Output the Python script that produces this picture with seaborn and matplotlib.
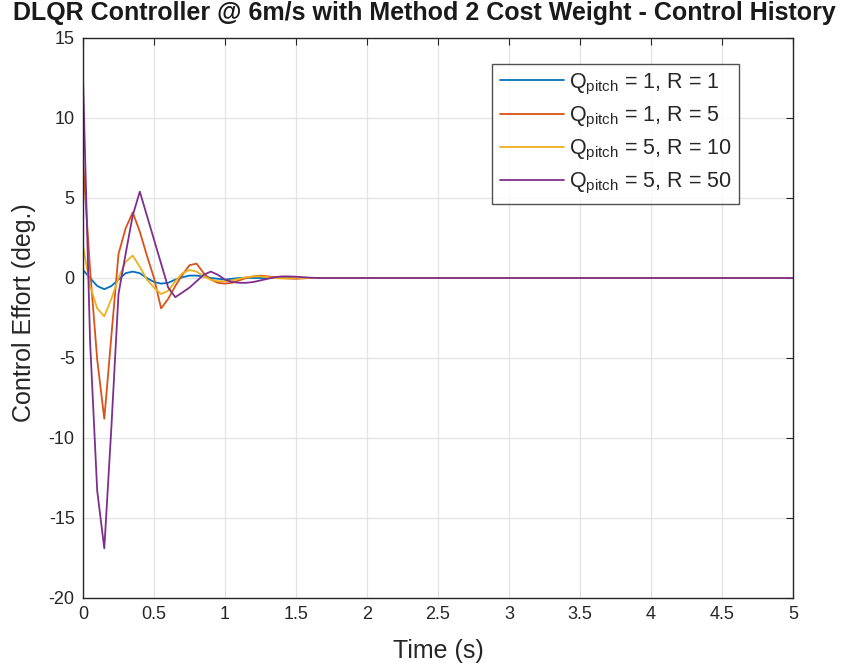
import numpy as np
import pandas as pd
import matplotlib
matplotlib.use("Agg")
import matplotlib.pyplot as plt
import seaborn as sns

# ---------------- data ----------------
dt = 0.05
n_points = 101  # 0 .. 5 s

series_labels = [
    r"Q$_{\mathrm{pitch}}$ = 1, R = 1",
    r"Q$_{\mathrm{pitch}}$ = 1, R = 5",
    r"Q$_{\mathrm{pitch}}$ = 5, R = 10",
    r"Q$_{\mathrm{pitch}}$ = 5, R = 50",
]

u_q1_r1 = [0.5, 0.0, -0.5, -0.7, -0.5, -0.1, 0.3, 0.4, 0.3, 0.0,
           -0.25, -0.35, -0.3, -0.1, 0.05, 0.15, 0.15, 0.1, 0.0, -0.05,
           -0.1, -0.05, 0.0, 0.02]
u_q1_r5 = [7.3, 0.5, -5.1, -8.8, -3.6, 1.5, 3.1, 4.1, 2.9, 1.4,
           0.0, -1.9, -1.3, -0.5, 0.2, 0.8, 0.9, 0.3, -0.1, -0.3,
           -0.35, -0.3, -0.15, 0.0, 0.1, 0.15, 0.1, 0.05, 0.0, -0.03,
           -0.05, -0.02]
u_q5_r10 = [2.0, -0.5, -1.9, -2.4, -1.3, 0.0, 1.0, 1.4, 0.7, -0.1,
            -0.6, -1.0, -0.8, -0.2, 0.3, 0.5, 0.4, 0.1, -0.1, -0.2,
            -0.2, -0.15, -0.05, 0.05, 0.1, 0.1, 0.05, 0.0, -0.03, -0.03]
u_q5_r50 = [12.5, -4.0, -13.3, -16.9, -9.3, -1.0, 1.5, 3.9, 5.4, 3.9,
            2.4, 0.9, -0.6, -1.2, -0.9, -0.6, -0.2, 0.2, 0.4, 0.2,
            -0.1, -0.25, -0.3, -0.3, -0.25, -0.15, -0.05, 0.05, 0.1, 0.1,
            0.08, 0.05, 0.02]

series_values = [u_q1_r1, u_q1_r5, u_q5_r10, u_q5_r50]
colors = ["#0072BD", "#D95319", "#EDB120", "#7E2F8E"]

x_ticks = [0, 0.5, 1, 1.5, 2, 2.5, 3, 3.5, 4, 4.5, 5]
x_tick_labels = ["0", "0.5", "1", "1.5", "2", "2.5", "3", "3.5", "4", "4.5", "5"]
y_ticks = [-20, -15, -10, -5, 0, 5, 10, 15]

# ---------------- build table ----------------
time = np.arange(n_points) * dt
rows = []
for lab, vals in zip(series_labels, series_values):
    full = list(vals) + [0.0] * (n_points - len(vals))
    rows.append(pd.DataFrame({"t": time, "u": full, "series": lab}))
df = pd.concat(rows, ignore_index=True)

# ---------------- style ----------------
sns.set_theme(style="white")
plt.rcParams["font.family"] = ["Liberation Sans", "DejaVu Sans"]
plt.rcParams["mathtext.fontset"] = "custom"
plt.rcParams["mathtext.rm"] = "Liberation Sans"
plt.rcParams["mathtext.it"] = "Liberation Sans"
plt.rcParams["axes.unicode_minus"] = False

fig = plt.figure(figsize=(8.48, 6.65), dpi=100)
ax = fig.add_axes([83 / 848, 1 - 598 / 665, (793 - 83) / 848, (598 - 38) / 665])

sns.lineplot(data=df, x="t", y="u", hue="series", hue_order=series_labels,
             palette=colors, estimator=None, linewidth=1.3, ax=ax, legend=False)

ax.set_xlim(0, 5)
ax.set_ylim(-20, 15)
ax.set_xticks(x_ticks)
ax.set_xticklabels(x_tick_labels)
ax.set_yticks(y_ticks)
ax.grid(True, color="#e3e3e3", linewidth=0.9)
ax.set_axisbelow(True)
for s in ax.spines.values():
    s.set_color("#262626")
    s.set_linewidth(1.0)
ax.tick_params(direction="in", length=5, width=0.8, colors="#262626",
               labelsize=13, top=True, right=True, pad=6)
for lbl in ax.get_xticklabels() + ax.get_yticklabels():
    lbl.set_color("#262626")

ax.set_xlabel("Time (s)", fontsize=18, color="#262626", labelpad=11)
ax.set_ylabel("Control Effort (deg.)", fontsize=18, color="#262626")
ax.yaxis.set_label_coords(-0.066, 0.51)
fig.suptitle("DLQR Controller @ 6m/s with Method 2 Cost Weight - Control History",
             fontsize=18, fontweight="bold", x=0.5, y=0.999, va="top", color="#1a1a1a")

handles = [plt.Line2D([], [], color=c, linewidth=1.3) for c in colors]
leg = ax.legend(handles, series_labels, loc="upper right",
                bbox_to_anchor=(739 / 848, 1 - 64 / 665), bbox_transform=fig.transFigure,
                fontsize=15.5, frameon=True, fancybox=False, handlelength=3.0,
                handletextpad=0.2, labelspacing=0.38, borderpad=0.35,
                borderaxespad=0)
leg.get_frame().set_edgecolor("#262626")
leg.get_frame().set_linewidth(1.0)
for txt in leg.get_texts():
    txt.set_color("#262626")

fig.savefig("out.png", dpi=100)
